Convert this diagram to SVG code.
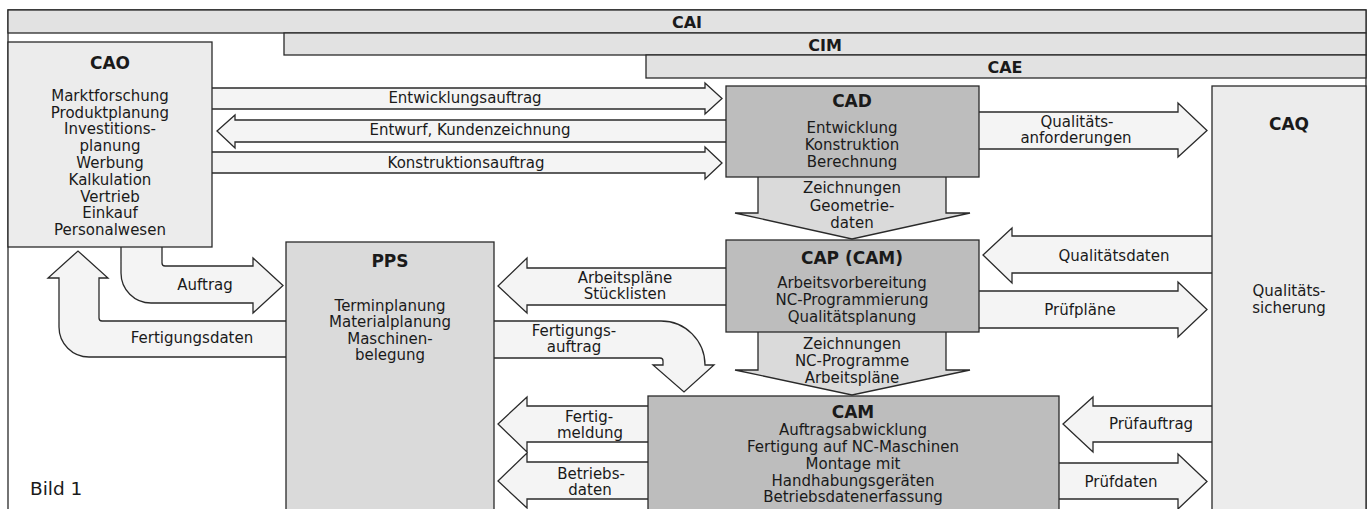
<svg xmlns="http://www.w3.org/2000/svg" width="1370" height="509" viewBox="0 0 1370 509">
<style>
text{font-family:"DejaVu Sans","Liberation Sans",sans-serif;font-size:15px;fill:#1a1a1a;text-anchor:middle}
.t{font-weight:bold;font-size:17px}
.bar{fill:#e2e2e2;stroke:#2a2a2a;stroke-width:1.3}
.box{stroke:#2a2a2a;stroke-width:1.3}
.lt{fill:#ececec}
.md{fill:#dadada}
.dk{fill:#bdbdbd}
.arr{fill:#f4f4f4;stroke:#2a2a2a;stroke-width:1.3;stroke-linejoin:miter}
.arrd{fill:#dadada;stroke:#2a2a2a;stroke-width:1.3}
.frame{fill:none;stroke:#2a2a2a;stroke-width:1.3}
</style>
<g id="frame">
<path class="frame" d="M8,509 V10 H1366 V509"/>
<rect class="bar" x="8" y="10" width="1358" height="23"/>
<rect class="bar" x="284" y="33" width="1082" height="22"/>
<rect class="bar" x="646" y="55" width="720" height="23"/>
<text class="t" x="687" y="28" style="font-size:16px">CAI</text>
<text class="t" x="825" y="51" style="font-size:16px">CIM</text>
<text class="t" x="1005" y="73" style="font-size:16px">CAE</text>
<text x="30" y="495" style="font-size:18.5px;text-anchor:start">Bild 1</text>
</g>
<g id="connectors">
<path class="arr" d="M210,88 H705 V83 L722,98.5 L705,114 V109 H210 Z"/>
<path class="arr" d="M728,120 H235 V115 L217,131 L235,148 V142 H728 Z"/>
<path class="arr" d="M210,152 H705 V147 L722,163 L705,179 V173 H210 Z"/>
<path class="arr" d="M977,112 H1178 V103 L1207,130.5 L1178,157 V149 H977 Z"/>
<path class="arrd" d="M758,175 V213 H735 L852,239 L970,213 H946 V175 Z"/>
<path class="arr" d="M1214,236 H1012 V228 L983,255 L1012,283 V273 H1214 Z"/>
<path class="arr" d="M728,268 H527 V258 L498,286 L527,313 V305 H728 Z"/>
<path class="arr" d="M977,291 H1178 V282 L1207,309.5 L1178,337 V328 H977 Z"/>
<path class="arrd" d="M758,331 V370 H735 L852,395 L970,370 H946 V331 Z"/>
<path class="arr" d="M1214,406 H1093 V397 L1063,424 L1093,452 V442 H1214 Z"/>
<path class="arr" d="M1057,463 H1178 V454 L1207,481.5 L1178,509 V499 H1057 Z"/>
<path class="arr" d="M650,406 H527 V397 L498,424 L527,452 V442 H650 Z"/>
<path class="arr" d="M650,462 H527 V453 L498,481 L527,508 V499 H650 Z"/>
<path class="arr" d="M121,245 V273 A30,30 0 0 0 151,303 H253 V313 L283,285.5 L253,258 V266 H165 A3,3 0 0 1 162,263 V245 Z"/>
<path class="arr" d="M288,321 H102 A3,3 0 0 1 99,318 V278 H108 L78,251 L48,278 H59 V327 A30,30 0 0 0 89,357 H288 Z"/>
<path class="arr" d="M492,321 H661 A44,44 0 0 1 705,365 H714 L684,392 L653,365 H663 V361 A3,3 0 0 0 660,358 H492 Z"/>
<text x="465" y="103">Entwicklungsauftrag</text>
<text x="470" y="135">Entwurf, Kundenzeichnung</text>
<text x="466" y="168">Konstruktionsauftrag</text>
<text x="1077" y="127">Qualitäts-</text>
<text x="1076" y="143">anforderungen</text>
<text x="852" y="193">Zeichnungen</text>
<text x="852" y="211">Geometrie-</text>
<text x="852" y="228">daten</text>
<text x="1114" y="261">Qualitätsdaten</text>
<text x="625" y="283">Arbeitspläne</text>
<text x="625" y="299">Stücklisten</text>
<text x="1080" y="315">Prüfpläne</text>
<text x="852" y="349">Zeichnungen</text>
<text x="852" y="366">NC-Programme</text>
<text x="852" y="383">Arbeitspläne</text>
<text x="1151" y="429">Prüfauftrag</text>
<text x="1121" y="487">Prüfdaten</text>
<text x="589" y="422">Fertig-</text>
<text x="590" y="438">meldung</text>
<text x="591" y="479">Betriebs-</text>
<text x="590" y="495">daten</text>
<text x="205" y="290">Auftrag</text>
<text x="192" y="343">Fertigungsdaten</text>
<text x="574" y="336">Fertigungs-</text>
<text x="574" y="352">auftrag</text>
</g>
<g id="CAO">
<rect class="box lt" x="8" y="42" width="204" height="205"/>
<text class="t" x="110" y="69">CAO</text>
<text x="110" y="101">Marktforschung</text>
<text x="110" y="118">Produktplanung</text>
<text x="110" y="134">Investitions-</text>
<text x="110" y="151">planung</text>
<text x="110" y="168">Werbung</text>
<text x="110" y="185">Kalkulation</text>
<text x="110" y="202">Vertrieb</text>
<text x="110" y="218">Einkauf</text>
<text x="110" y="235">Personalwesen</text>
</g>
<g id="CAD">
<rect class="box dk" x="726" y="86" width="253" height="91"/>
<text class="t" x="852" y="107">CAD</text>
<text x="852" y="133">Entwicklung</text>
<text x="852" y="150">Konstruktion</text>
<text x="852" y="167">Berechnung</text>
</g>
<g id="CAP">
<rect class="box dk" x="726" y="240" width="253" height="92"/>
<text class="t" x="852" y="264">CAP (CAM)</text>
<text x="852" y="288">Arbeitsvorbereitung</text>
<text x="852" y="305">NC-Programmierung</text>
<text x="852" y="322">Qualitätsplanung</text>
</g>
<g id="CAM">
<rect class="box dk" x="648" y="396" width="411" height="120"/>
<text class="t" x="853" y="418">CAM</text>
<text x="853" y="435">Auftragsabwicklung</text>
<text x="853" y="452">Fertigung auf NC-Maschinen</text>
<text x="853" y="469">Montage mit</text>
<text x="853" y="486">Handhabungsgeräten</text>
<text x="853" y="502">Betriebsdatenerfassung</text>
</g>
<g id="PPS">
<rect class="box md" x="286" y="242" width="208" height="280"/>
<text class="t" x="390" y="267">PPS</text>
<text x="390" y="311">Terminplanung</text>
<text x="390" y="327">Materialplanung</text>
<text x="390" y="344">Maschinen-</text>
<text x="390" y="360">belegung</text>
</g>
<g id="CAQ">
<rect class="box lt" x="1212" y="86" width="154" height="440"/>
<text class="t" x="1289" y="130">CAQ</text>
<text x="1289" y="296">Qualitäts-</text>
<text x="1289" y="313">sicherung</text>
</g>
</svg>
